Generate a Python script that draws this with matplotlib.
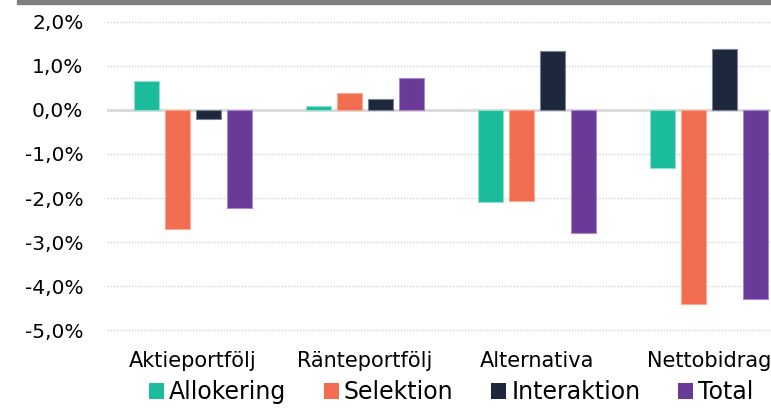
import matplotlib
matplotlib.use("Agg")
import matplotlib.pyplot as plt
from matplotlib.patches import Patch, Rectangle
from matplotlib.ticker import FuncFormatter, FixedLocator
import numpy as np

categories = ["Aktieportfölj", "Ränteportfölj", "Alternativa", "Nettobidrag"]
series_names = ["Allokering", "Selektion", "Interaktion", "Total"]
allokering = [0.67, 0.09, -2.09, -1.31]
selektion = [-2.71, 0.38, -2.07, -4.40]
interaktion = [-0.21, 0.25, 1.35, 1.39]
total = [-2.23, 0.73, -2.80, -4.30]
yticks = [-5.0, -4.0, -3.0, -2.0, -1.0, 0.0, 1.0, 2.0]
colors = ["#1bbc9b", "#f26c4f", "#1e283d", "#6a3a99"]
edges = ["#8fe0cf", "#f9a994", "#7a8294", "#a98ac8"]

plt.rcParams['font.family'] = ['DejaVu Sans']

W, H = 771, 409
fig = plt.figure(figsize=(W / 100, H / 100), dpi=100)
ax = fig.add_axes([107 / W, 1 - 332 / H, 688 / W, 312 / H])

# top grey bar
fig.patches.append(Rectangle((17 / W, 1 - 4 / H), 1 - 17 / W, 4 / H,
                             transform=fig.transFigure, color="#808080", zorder=0))

x = np.arange(len(categories))
pitch = 31 / 172
width = 25 / 172
data = [allokering, selektion, interaktion, total]
for i, (vals, c, e) in enumerate(zip(data, colors, edges)):
    ax.bar(x + (i - 1.5) * pitch, vals, width=width, color=c, edgecolor=e,
           linewidth=0.8, zorder=3)

ax.set_xlim(-0.5, 3.5)
ax.set_ylim(-5.045, 2.045)
ax.yaxis.set_major_locator(FixedLocator(yticks))
ax.yaxis.set_major_formatter(FuncFormatter(lambda v, p: f"{v:.1f}%".replace(".", ",").replace("\u2212", "-")))
ax.grid(axis="y", linestyle=(0, (1, 1.2)), color="#d4d4d4", linewidth=1.0, zorder=0)
ax.axhline(0, color="#d9d9d9", linewidth=2.0, zorder=2)
for s in ax.spines.values():
    s.set_visible(False)
ax.set_xticks(x)
ax.set_xticklabels(categories)
ax.tick_params(axis="y", length=0, pad=17, labelsize=14.5, labelcolor="#000000")
ax.tick_params(axis="x", length=0, pad=14, labelsize=15, labelcolor="#000000")

handles = [Patch(facecolor=c, edgecolor="none") for c in colors]
fig.legend(handles, series_names, loc="center", bbox_to_anchor=(451 / W, 1 - 392 / H),
           ncol=4, frameon=False, fontsize=17, handlelength=0.65, handleheight=0.65,
           handletextpad=0.2, columnspacing=1.6, borderpad=0, borderaxespad=0)

fig.savefig("out.png", dpi=100)
